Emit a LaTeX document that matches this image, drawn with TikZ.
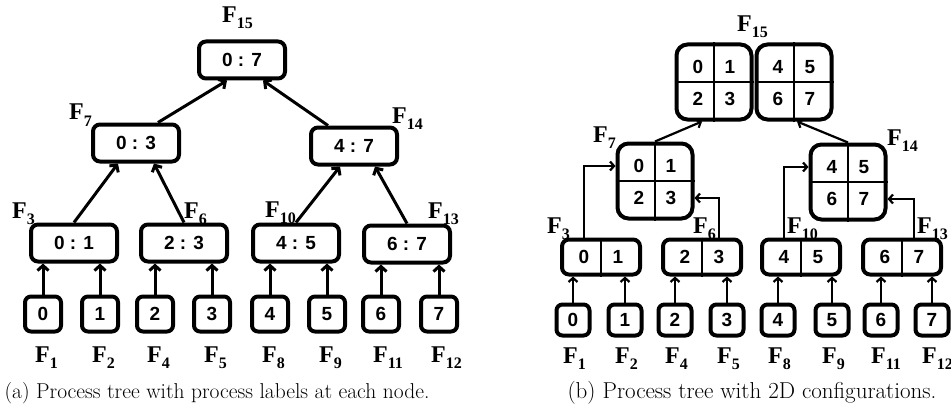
\documentclass[tikz,border=0pt]{standalone}
\usepackage{fontspec}
\usepackage{tikz}
\usetikzlibrary{positioning}
\usetikzlibrary{arrows.meta}

\newfontfamily\lsans{Liberation Sans}
\newfontfamily\lserif{Liberation Serif}
\newcommand{\digitfont}{\lsans\bfseries\fontsize{19}{19}\selectfont}
\newcommand{\Flab}[1]{{\lserif\bfseries\fontsize{24}{24}\selectfont F\raisebox{-6pt}{\fontsize{16}{16}\selectfont #1}}}

\tikzset{
	proc/.style={draw, line width=4pt, rounded corners=7pt, minimum width=86pt, minimum height=37pt, font=\digitfont},
	leaf/.style={draw, line width=4pt, rounded corners=6pt, minimum width=36pt, minimum height=35pt, font=\digitfont},
	leafb/.style={leaf, minimum width=33pt, minimum height=31pt},
	quad/.style={draw, line width=4pt, rounded corners=11pt, minimum width=75pt, minimum height=75pt},
	pair/.style={draw, line width=4pt, rounded corners=7pt, minimum width=78pt, minimum height=35pt},
	grid/.style={line width=1.8pt},
	cell/.style={font=\digitfont, inner sep=0pt},
	flab/.style={inner sep=0pt, anchor=base west},
	link/.style={-{Straight Barb[length=5pt, width=11pt]}, line width=3pt},
	link2/.style={-{Straight Barb[length=4pt, width=9pt]}, line width=2.2pt},
	capt/.style={anchor=base, font=\fontsize{21.5}{24}\selectfont}
}

\begin{document}
\begin{tikzpicture}[x=1pt, y=-1pt]
	\useasboundingbox (0,0) rectangle (951,412);

	% (a) tree of process ranges
	\node[proc] (p07) at (242,60) {0 : 7};
	\node[proc] (p03) at (136,143) {0 : 3};
	\node[proc] (p47) at (354,146) {4 : 7};
	\node[proc] (p01) at (74,243) {0 : 1};
	\node[proc] (p23) at (184,243) {2 : 3};
	\node[proc] (p45) at (296,243) {4 : 5};
	\node[proc] (p67) at (407,244) {6 : 7};
	\foreach \x/\d/\f/\p in {43/0/1/p01, 100/1/2/p01, 155/2/4/p23, 212/3/5/p23, 270/4/8/p45, 327/5/9/p45, 381/6/11/p67, 439/7/12/p67} {
		\node[leaf] (l\d) at (\x,314) {\d};
		\node[flab] (fl\d) at (\x-8,362) {\Flab{\f}};
		\draw[link] (l\d.north) -- (l\d.north |- \p.south);
	}
	\draw[link] (p01.north) -- ([xshift=-18pt]p03.south);
	\draw[link] (p23.north) -- ([xshift=18pt]p03.south);
	\draw[link] (p45.north) -- ([xshift=-14pt]p47.south);
	\draw[link] (p67.north) -- ([xshift=21pt]p47.south);
	\draw[link] ([xshift=22pt]p03.north) -- ([xshift=-15pt]p07.south);
	\draw[link] ([xshift=-26pt]p47.north) -- ([xshift=21pt]p07.south);
	\node[flab] (fa15) at (222,23) {\Flab{15}};
	\node[flab] (fa7) at (69,120) {\Flab{7}};
	\node[flab] (fa14) at (392,123) {\Flab{14}};
	\node[flab] (fa3) at (12,218) {\Flab{3}};
	\node[flab] (fa6) at (184,218) {\Flab{6}};
	\node[flab] (fa10) at (265,217) {\Flab{10}};
	\node[flab] (fa13) at (428,218) {\Flab{13}};
	\node[capt] (capa) at (217,398) {(a) Process tree with process labels at each node.};

	% (b) tree of 2D configurations
	\foreach \q/\cx/\cy/\a/\b/\c/\e in {q15a/714/82/0/1/2/3, q15b/794/82/4/5/6/7, q7/655/181/0/1/2/3, q14/848/182/4/5/6/7} {
		\node[quad] (\q) at (\cx,\cy) {};
		\draw[grid] (\q.north) -- (\q.south) (\q.west) -- (\q.east);
		\node[cell] (\q-a) at (\cx-16,\cy-15) {\a};
		\node[cell] (\q-b) at (\cx+16,\cy-15) {\b};
		\node[cell] (\q-c) at (\cx-16,\cy+17) {\c};
		\node[cell] (\q-d) at (\cx+16,\cy+17) {\e};
	}
	\foreach \p/\cx/\a/\b in {c01/601/0/1, c23/702/2/3, c45/801/4/5, c67/902/6/7} {
		\node[pair] (\p) at (\cx,257) {};
		\draw[grid] (\p.north) -- (\p.south);
		\node[cell] (\p-a) at (\cx-17,257) {\a};
		\node[cell] (\p-b) at (\cx+17,257) {\b};
	}
	\foreach \x/\d/\f/\p in {573/0/1/c01, 625/1/2/c01, 675/2/4/c23, 727/3/5/c23, 778/4/8/c45, 832/5/9/c45, 881/6/11/c67, 932/7/12/c67} {
		\node[leafb] (m\d) at (\x,320) {\d};
		\node[flab] (fm\d) at (\x-10,363) {\Flab{\f}};
		\draw[link2] (m\d.north) -- (m\d.north |- \p.south);
	}
	\draw[link2] (c01-a |- c01.north) |- (q7.west |- q7-a);
	\draw[link2] (c23-b |- c23.north) |- (q7.east |- q7-c);
	\draw[link2] (c45-a |- c45.north) |- (q14.west |- q14-a);
	\draw[link2] ([xshift=-5pt]c67-b |- c67.north) |- (q14.east |- q14-c);
	\draw[link2] (q7.north) -- ([xshift=-12pt]q15a.south);
	\draw[link2] (q14.north) -- ([xshift=3pt]q15b.south);
	\node[flab] (fb15) at (737,32) {\Flab{15}};
	\node[flab] (fb7) at (593,142) {\Flab{7}};
	\node[flab] (fb14) at (887,145) {\Flab{14}};
	\node[flab] (fb3) at (547,233) {\Flab{3}};
	\node[flab] (fb6) at (693,233) {\Flab{6}};
	\node[flab] (fb10) at (787,233) {\Flab{10}};
	\node[flab] (fb13) at (917,233) {\Flab{13}};
	\node[capt, font=\fontsize{23}{26}\selectfont] (capb) at (752,398) {(b) Process tree with 2D configurations.};
\end{tikzpicture}
\end{document}
